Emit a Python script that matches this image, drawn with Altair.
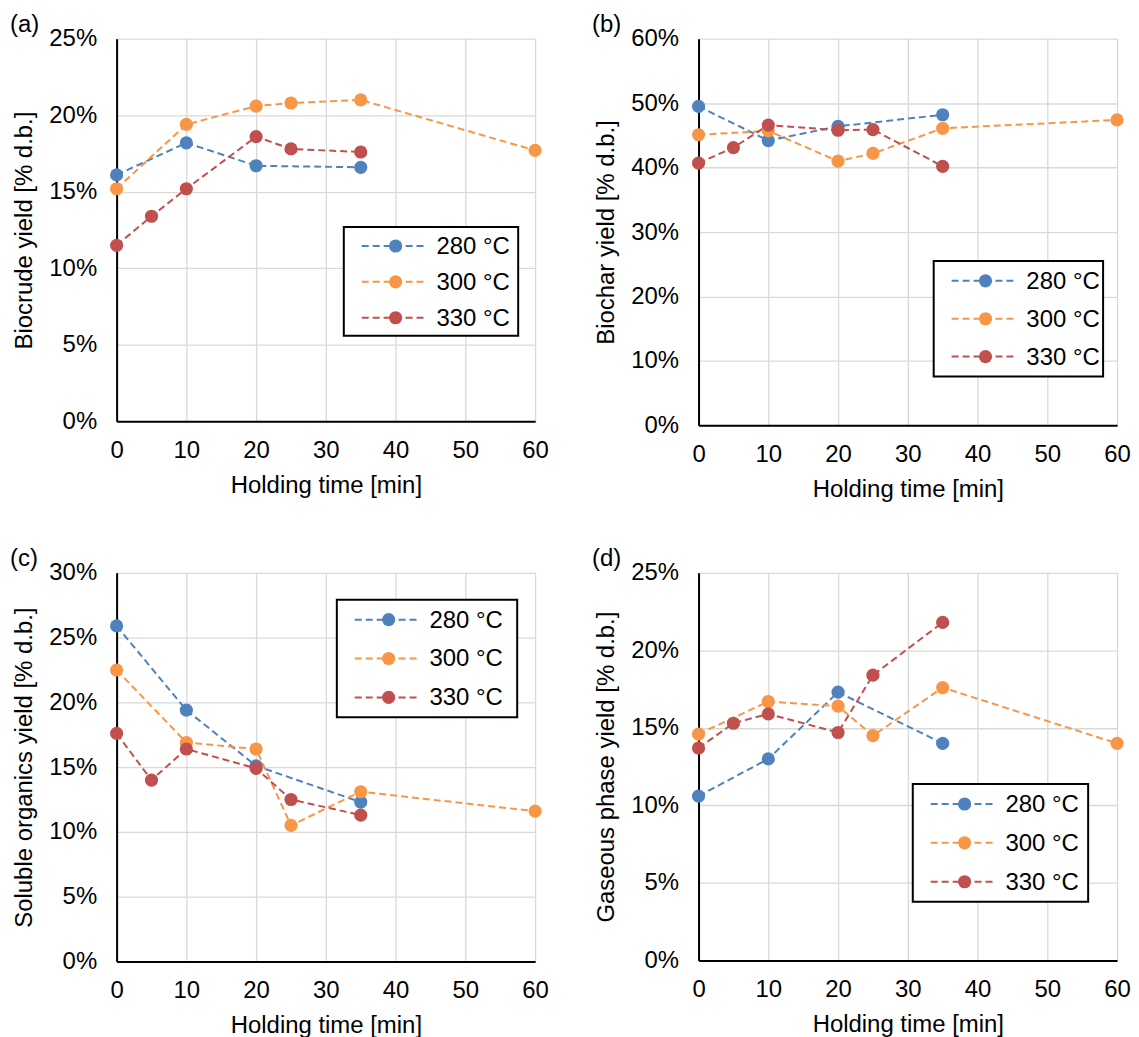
import altair as alt
import pandas as pd

FONT = "Liberation Sans"

series = ["280 °C", "300 °C", "330 °C"]
colors = ["#4F81BD", "#F79646", "#C0504D"]

# holding times per series [min]
t_280 = [0, 10, 20, 35]
t_300 = [0, 10, 20, 25, 35, 60]
t_330 = [0, 5, 10, 20, 25, 35]

# (a) biocrude yield [% d.b.]
biocrude_280 = [16.1, 18.2, 16.7, 16.6]
biocrude_300 = [15.2, 19.4, 20.6, 20.8, 21.0, 17.7]
biocrude_330 = [11.5, 13.4, 15.2, 18.6, 17.8, 17.6]

# (b) biochar yield
biochar_280 = [49.5, 44.2, 46.4, 48.2]
biochar_300 = [45.1, 45.7, 41.0, 42.2, 46.1, 47.4]
biochar_330 = [40.7, 43.1, 46.6, 45.8, 45.9, 40.2]

# (c) soluble organics yield
soluble_280 = [25.9, 19.4, 15.1, 12.3]
soluble_300 = [22.5, 16.9, 16.4, 10.5, 13.1, 11.6]
soluble_330 = [17.6, 14.0, 16.4, 14.9, 12.5, 11.3]

# (d) gaseous phase yield
gas_280 = [10.6, 13.0, 17.3, 14.0]
gas_300 = [14.6, 16.7, 16.4, 14.5, 17.6, 14.0]
gas_330 = [13.7, 15.3, 15.9, 14.7, 18.4, 21.8]

x_ticks = [0, 10, 20, 30, 40, 50, 60]

FS = 24
DASH = [7, 4]
MSIZE = 175


def long_df(v280, v300, v330):
    rows = []
    for name, ts, vs in zip(series, [t_280, t_300, t_330], [v280, v300, v330]):
        for t, v in zip(ts, vs):
            rows.append({"series": name, "time": t, "yield": v})
    return pd.DataFrame(rows)


def panel(label, ytitle, ymax, ystep, vals, width, height, leg):
    df = long_df(*vals)
    x = alt.X("time:Q", scale=alt.Scale(domain=[0, 60], nice=False),
              axis=alt.Axis(values=x_ticks, title="Holding time [min]"))
    y = alt.Y("yield:Q", scale=alt.Scale(domain=[0, ymax], nice=False),
              axis=alt.Axis(values=list(range(0, ymax + 1, ystep)),
                            labelExpr="datum.value + '%'", title=ytitle))
    color = alt.Color("series:N", scale=alt.Scale(domain=series, range=colors), legend=None)

    lines = alt.Chart(df).mark_line(strokeDash=DASH, strokeWidth=2).encode(x=x, y=y, color=color)
    points = alt.Chart(df).mark_circle(size=MSIZE, opacity=1).encode(x=x, y=y, color=color)

    L, T, W, H, first, step = leg
    layers = [lines, points]
    box_df = pd.DataFrame({"k": [label]})
    layers.append(
        alt.Chart(box_df).mark_rect(fill="white", stroke="black", strokeWidth=2).encode(
            x=alt.value(L), x2=alt.value(L + W), y=alt.value(T), y2=alt.value(T + H)))
    for i, (name, c) in enumerate(zip(series, colors)):
        yy = T + first + i * step
        edf = pd.DataFrame({"series": [name]})
        layers.append(alt.Chart(edf).mark_rule(strokeDash=DASH, strokeWidth=2).encode(
            x=alt.value(L + 18), x2=alt.value(L + 82), y=alt.value(yy), color=alt.value(c)))
        layers.append(alt.Chart(edf).mark_circle(size=MSIZE, opacity=1).encode(
            x=alt.value(L + 52), y=alt.value(yy), color=alt.value(c)))
        layers.append(alt.Chart(edf).mark_text(align="left", baseline="middle", fontSize=FS,
                                               font=FONT, color="black").encode(
            x=alt.value(L + 93), y=alt.value(yy + 1), text="series:N"))
    lab_df = pd.DataFrame({"t": [label]})
    layers.append(alt.Chart(lab_df).mark_text(align="left", baseline="alphabetic", fontSize=FS,
                                              font=FONT, color="black").encode(
        x=alt.value(-107), y=alt.value(-7), text="t:N"))
    return alt.layer(*layers).properties(width=width, height=height)


pa = panel("(a)", "Biocrude yield [% d.b.]", 25, 5,
           (biocrude_280, biocrude_300, biocrude_330), 420, 384,
           (228, 189, 175, 109, 19, 36))
pb = panel("(b)", "Biochar yield [% d.b.]", 60, 10,
           (biochar_280, biochar_300, biochar_330), 420, 388,
           (236, 223, 170, 116, 20, 38))
pc = panel("(c)", "Soluble organics yield [% d.b.]", 30, 5,
           (soluble_280, soluble_300, soluble_330), 420, 390,
           (221, 27, 181, 118, 20, 39))
pdd = panel("(d)", "Gaseous phase yield [% d.b.]", 25, 5,
            (gas_280, gas_300, gas_330), 420, 389,
            (215, 212, 176, 118, 20, 39))

chart = alt.vconcat(
    alt.hconcat(pa, pb, spacing=43),
    alt.hconcat(pc, pdd, spacing=43),
    spacing=46,
).properties(
    padding={"left": 2, "top": 3, "right": 0, "bottom": 0}
).configure_view(stroke=None).configure_axis(
    labelFont=FONT, titleFont=FONT, labelFontSize=FS, titleFontSize=FS,
    titleFontWeight="normal", labelColor="black", titleColor="black",
    ticks=False, tickSize=0, domainColor="black", domainWidth=2,
    gridColor="#D9D9D9", gridWidth=1.3, labelFlush=False,
).configure_axisX(labelPadding=17, titlePadding=11).configure_axisY(
    labelPadding=20, titlePadding=12)

chart.save("out.html", embed_options={"renderer": "svg", "actions": False})
